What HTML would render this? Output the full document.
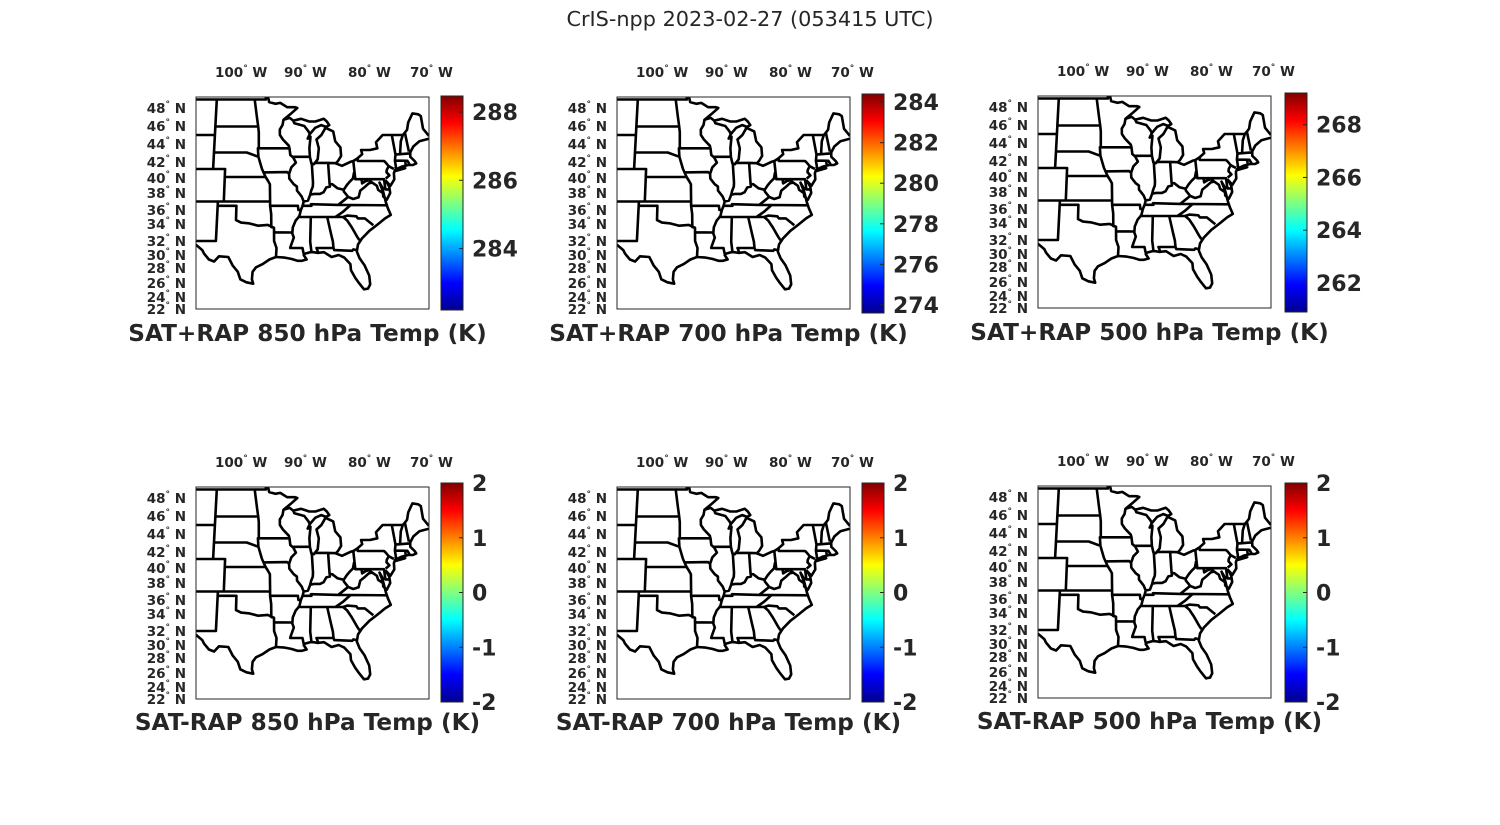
<!DOCTYPE html>
<html><head><meta charset="utf-8"><title>CrIS-npp 2023-02-27</title>
<style>
html,body{margin:0;padding:0;background:#fff;}
svg{display:block;}
text{font-family:"DejaVu Sans","Liberation Sans",sans-serif;fill:#262626;}
</style></head>
<body>
<svg id="fig" width="1500" height="825" viewBox="0 0 1500 825" xmlns="http://www.w3.org/2000/svg">
<defs>
<linearGradient id="jet" x1="0" y1="1" x2="0" y2="0">
<stop offset="0" stop-color="#00008f"/><stop offset="0.125" stop-color="#0000ff"/>
<stop offset="0.375" stop-color="#00ffff"/><stop offset="0.625" stop-color="#ffff00"/>
<stop offset="0.875" stop-color="#ff0000"/><stop offset="1" stop-color="#800000"/>
</linearGradient>
<clipPath id="mapclip"><rect x="0" y="0" width="233" height="212"/></clipPath>
<symbol id="usmap" viewBox="0 0 233 212" width="233" height="212">
<path id="statepath" fill="none" stroke="#000" stroke-width="2.6" stroke-linejoin="round" clip-path="url(#mapclip)" d=""/>
</symbol>
</defs>
<text x="750" y="26" text-anchor="middle" font-size="20.8">CrIS-npp 2023-02-27 (053415 UTC)</text>
</svg>
<script>
// ---- chart data ----
const panelTitles = ["SAT+RAP 850 hPa Temp (K)","SAT+RAP 700 hPa Temp (K)","SAT+RAP 500 hPa Temp (K)",
  "SAT-RAP 850 hPa Temp (K)","SAT-RAP 700 hPa Temp (K)","SAT-RAP 500 hPa Temp (K)"];
const cbarMin = [282.2, 273.6, 260.9, -2, -2, -2];
const cbarMax = [288.47, 284.4, 269.2, 2, 2, 2];
const cbarTicks = [[284,286,288],[274,276,278,280,282,284],[262,264,266,268],[-2,-1,0,1,2],[-2,-1,0,1,2],[-2,-1,0,1,2]];
const lonTicks = [100, 90, 80, 70];
const latTicks = [48,46,44,42,40,38,36,34,32,30,28,26,24,22];
const latTickOffsets = [11,29,47,65,81,96,113,127,144,158,171,186,200,212];

// ---- projection (approx. conic) ----
const lon0 = -96, cx0 = 65.4;
function K(lat){ return 5.77 + (45 - lat) * 0.056; }
const latRef = [49.3,48,46,44,42,40,38,36,34,32,30,28,26,24,22];
const yRef = [0,11,29,47,64,80,96,113,127,144,158,171,186,200,212];
function Y(lat){
  for(let i=0;i<latRef.length-1;i++){
    if(lat<=latRef[i] && lat>=latRef[i+1]){
      const t=(latRef[i]-lat)/(latRef[i]-latRef[i+1]);
      return yRef[i]+t*(yRef[i+1]-yRef[i]);
    }
  }
  return lat>latRef[0]? -(lat-latRef[0])*9 : 212+(22-lat)*6;
}
function X(lon, lat){ return cx0 + (lon - lon0) * K(lat); }
const lines = [
 [[-108,49],[-95.2,49],[-95.2,49.4],[-94.8,49.3],[-94.6,48.7],[-93.5,48.5],[-92.6,48.6],[-91.4,48.1],[-90,48.1],[-89.6,48],[-90.9,47.3],[-92.1,46.7],[-91,46.9],[-90.4,46.6],[-89,46.8],[-87.6,46.5],[-86.5,46.5],[-85,46.8],[-84.5,46.5],[-84.1,46.1],[-84.7,45.9],[-85.5,46.1],[-86.6,45.8],[-87.6,45.1],[-88,44.6],[-87.5,44.8],[-87.8,43.5],[-87.8,42.5],[-87.6,41.7],[-87.2,41.6],[-86.5,42.2],[-86.2,43.5],[-86.5,44.5],[-85.6,45],[-84.8,45.8],[-83.5,45.4],[-83.3,44.3],[-82.5,43.6],[-82.5,42.6],[-83.1,42],[-83.5,41.7],[-82.5,41.4],[-81,41.9],[-80.5,42],[-79.8,42.3],[-78.9,42.8],[-79,43.3],[-77.5,43.3],[-76.2,43.5],[-76.3,44.2],[-75,45],[-71.5,45],[-71,45.3],[-70.6,45.6],[-70.2,46.4],[-69.2,47.4],[-68.2,47.3],[-67.8,47.1],[-67.8,45.7],[-67,44.9]],
 [[-67,44.6],[-68.8,44.3],[-70,43.7],[-70.7,43],[-70.8,42.5],[-70.2,42],[-70,41.7],[-70.6,41.5],[-71.4,41.5],[-72.5,41.3],[-73.7,40.9],[-74,40.5],[-74.1,39.7],[-74.9,38.9],[-75.5,39.5],[-75.1,38.8],[-75.1,38],[-75.8,37.2],[-76.3,37.6],[-76.2,38.6],[-76.6,39.3],[-76.2,38.1],[-76,36.9],[-75.8,36.2],[-75.5,35.3],[-76.5,34.8],[-77.9,33.9],[-79.2,33.2],[-80.5,32.3],[-81.2,31.5],[-81.5,30.5],[-81.2,29.5],[-80.6,28.4],[-80.1,27],[-80.1,25.8],[-80.5,25.2],[-81.1,25.1],[-81.8,26.1],[-82.2,26.7],[-82.7,27.7],[-82.7,28.6],[-83.5,29.6],[-84.3,30],[-85.4,29.7],[-86.5,30.4],[-87.5,30.3],[-88.1,30.4],[-88.6,30.4],[-89.4,30.2],[-89.6,30],[-89.2,29.3],[-89.9,29.1],[-90.6,29.1],[-91.5,29.4],[-92.5,29.6],[-93.8,29.7],[-94.8,29.3],[-95.8,28.6],[-96.8,28.1],[-97.3,27.5],[-97.4,26.5],[-97.2,25.9],[-98.2,26.1],[-99.1,26.5],[-99.5,27.5],[-100.3,28.4],[-101,29.7],[-102.4,29.8],[-103.1,29],[-103.9,29.3],[-104.7,30.2],[-105,30.7],[-106.5,31.8],[-108,31.8]],
 [[-73.9,40.7],[-72,41.1],[-71.9,41]],
 [[-108,45],[-104.05,45]],[[-104.05,49],[-104.05,41]],[[-108,41],[-102.05,41],[-102.05,37]],
 [[-104.05,45.94],[-96.56,45.94]],[[-104.05,43],[-98.5,43],[-96.5,42.5]],[[-102.05,40],[-95.3,40]],
 [[-108,37],[-94.6,37]],[[-103,37],[-103,32],[-106.6,32]],
 [[-103,36.5],[-100,36.5],[-100,34.56],[-99.2,34.2],[-98,34.1],[-96.5,33.8],[-95,33.9],[-94.04,33.55]],
 [[-97.2,49],[-96.8,47],[-96.56,45.94],[-96.45,45.3],[-96.45,43.5],[-96.6,43.5],[-96.5,42.5],[-96.1,41.5],[-95.9,41],[-95.3,40],[-94.9,39.5],[-94.6,39.1],[-94.6,37],[-94.6,36.5],[-94.45,35.4],[-94.45,33.64],[-94.04,33.55],[-94.04,31.99],[-93.7,31],[-93.8,29.7]],
 [[-96.45,43.5],[-91.22,43.5]],[[-95.77,40.58],[-91.73,40.61],[-91.4,40.4]],
 [[-92.1,46.7],[-92.3,46.1],[-92.8,45.6],[-92.8,45],[-92.3,44.5],[-91.3,43.8],[-91.2,43.5],[-91.1,42.7],[-90.6,42.4],[-90.2,41.8],[-91,41.2],[-91.4,40.4],[-91.4,39.8],[-90.7,39.1],[-90.2,38.8],[-90.2,38.3],[-89.5,37.6],[-89.2,37],[-89.4,36.5],[-89.7,36],[-90,35.1],[-90.6,34.5],[-91.1,33.6],[-91.2,32.9],[-91,32.4],[-91.5,31.3],[-91.6,31],[-89.73,31],[-89.6,30.2]],
 [[-94.6,36.5],[-90.15,36.5],[-90.1,36],[-89.7,36]],[[-94.04,33.02],[-91.16,33]],
 [[-90.4,46.6],[-90.2,46.3],[-88.5,46],[-87.8,45.4],[-87.6,45.1]],[[-90.6,42.5],[-87.8,42.5]],
 [[-87.53,41.7],[-87.53,39.3],[-87.6,38.8],[-87.9,38.3],[-88.1,37.8],[-88.5,37.1],[-89.2,37]],
 [[-88.1,37.8],[-87.4,37.9],[-86.5,37.9],[-85.9,38.1],[-85.4,38.7],[-84.8,38.8],[-84.8,39.1],[-84.4,39.1],[-83.6,38.6],[-82.6,38.4],[-82,39],[-81.5,39.4],[-80.9,39.8],[-80.6,40.6]],
 [[-87.2,41.76],[-84.8,41.76],[-83.45,41.73]],[[-84.8,41.76],[-84.82,39.1]],
 [[-89.5,36.5],[-88,36.5],[-88.05,36.68],[-83.7,36.6],[-81.7,36.59],[-75.9,36.55]],
 [[-83.7,36.6],[-82.6,37.2],[-81.97,37.54],[-82.6,38.2],[-82.6,38.4]],
 [[-81.97,37.54],[-81.2,37.3],[-80.3,37.5],[-79.9,38.3],[-79.2,38.7],[-78.4,39.2],[-77.8,39.3],[-77.1,38.9],[-77,38.4],[-76.3,38]],
 [[-80.52,42],[-80.52,39.72],[-75.79,39.72],[-75.79,38.45],[-75.05,38.45]],[[-79.48,39.72],[-79.48,39.2],[-78.8,39.5],[-78.3,39.6],[-77.8,39.3]],
 [[-79.76,42.27],[-79.76,42],[-75.35,42],[-75.1,41.8],[-74.7,41.35],[-73.9,41]],[[-74.7,41.35],[-75.1,40.9],[-75.2,40.6],[-74.8,40.2],[-75.5,39.8]],
 [[-90.3,35],[-84.3,35],[-83.1,35.7],[-81.7,36.59]],[[-84.3,35],[-83.1,35],[-82.4,35.2],[-81,35.1],[-80.8,34.8],[-79.7,34.8],[-78.5,33.85]],
 [[-88.2,35],[-88.5,31.9],[-88.4,30.4]],[[-85.6,35],[-85.2,32.8],[-85,31.9],[-85,31]],
 [[-87.4,30.4],[-87.6,31],[-85,31],[-84.9,30.7],[-82.2,30.6],[-82,30.8],[-81.5,30.7]],
 [[-83.1,35],[-82.5,34.5],[-81.9,33.6],[-81.2,32.5],[-80.9,32.1]],
 [[-73.4,45],[-73.25,42.75],[-73.5,42.05],[-73.5,41.2],[-73.7,41.1]],[[-71.5,45],[-72,44.3],[-72.5,42.73]],
 [[-73.25,42.75],[-70.9,42.9]],[[-73.5,42.05],[-71.4,42.02],[-71.1,41.5]],[[-71.8,42.02],[-71.8,41.3]],[[-71.08,45.3],[-70.9,43.1]]
];
let d = "";
lines.forEach(l=>{ l.forEach((p,i)=>{ d += (i?"L":"M")+X(p[0],p[1]).toFixed(1)+","+Y(p[1]).toFixed(1); }); });
document.getElementById("statepath").setAttribute("d", d);

const NS="http://www.w3.org/2000/svg";
const svg=document.getElementById("fig");
function mk(tag, attrs, parent){ const e=document.createElementNS(NS,tag); for(const k in attrs) e.setAttribute(k,attrs[k]); (parent||svg).appendChild(e); return e; }

const colX=[196,617,1038], rowY=[97,487];
const cbX=[441,862,1285];
const cbTop=[[96,94,93],[483,483,483]], cbBot=[[310,313,312],[702,702,702]];
const lonLabelStart=[19,88,152,214];
for(let p=0;p<6;p++){
  const c=p%3, r=Math.floor(p/3);
  const mx=colX[c], my=rowY[r]-(c==2?1:0);
  const g=mk("g",{});
  
  
  const u=mk("use",{href:"#usmap",x:mx,y:my,width:233,height:212},g);
  
  
  const box=mk("rect",{x:mx,y:my,width:233,height:212,fill:"none",stroke:"#262626","stroke-width":1},g);
  
  
  lonTicks.forEach((v,i)=>{
    const t=mk("text",{x:mx+lonLabelStart[i],y:my-20,"text-anchor":"start","font-size":13.5,"font-weight":"bold"},g);
    
    
    t.innerHTML=v+'<tspan font-size="9" dy="-6">°</tspan><tspan dy="6"> W</tspan>';
  });
  latTicks.forEach((v,i)=>{
    const t=mk("text",{x:mx-10,y:my+latTickOffsets[i]+5,"text-anchor":"end","font-size":13.5,"font-weight":"bold"},g);
    
    
    t.innerHTML=v+'<tspan font-size="9" dy="-6">°</tspan><tspan dy="6"> N</tspan>';
  });
  const bx=cbX[c], bt=cbTop[r][c], bb=cbBot[r][c];
  const cb=mk("rect",{x:bx,y:bt,width:22,height:bb-bt,fill:"url(#jet)",stroke:"#262626","stroke-width":1},g);
  
  
  const cy=v=> bb-(v-cbarMin[p])/(cbarMax[p]-cbarMin[p])*(bb-bt);
  cbarTicks[p].forEach(v=>{
    const y=cy(v);
    const tk=mk("line",{x1:bx+18,x2:bx+22,y1:y,y2:y,stroke:"#262626","stroke-width":1},g);
    
    
    const t=mk("text",{x:bx+31,y:y+8,"font-size":22,"font-weight":"bold"},g);
    
    
    t.textContent=v;
  });
  const tt=mk("text",{x:mx+111.5,y:my+244-(r?1:0),"text-anchor":"middle","font-size":23.2,"font-weight":"bold"},g);
  
  
  tt.textContent=panelTitles[p];
}
</script>
</body></html>
